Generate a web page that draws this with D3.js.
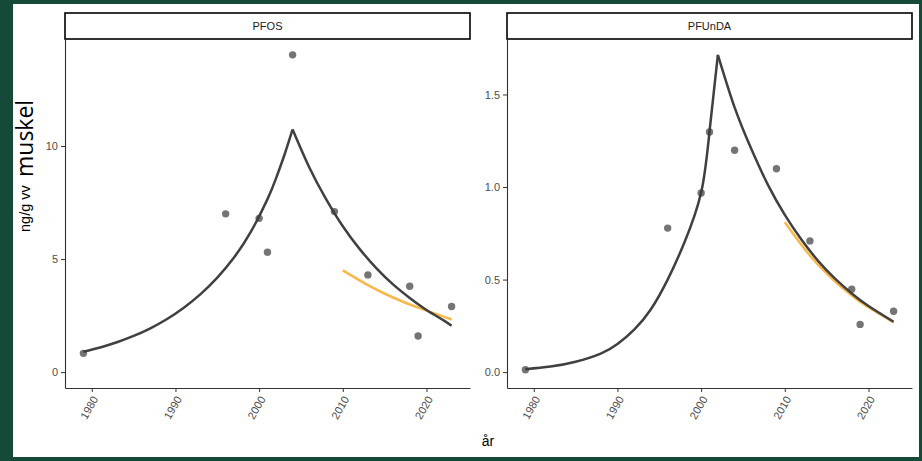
<!DOCTYPE html>
<html><head><meta charset="utf-8">
<script src="https://cdn.jsdelivr.net/npm/d3@7"></script>
<style>body{margin:0;padding:0;overflow:hidden;background:#fff} svg text{-webkit-font-smoothing:antialiased}</style>
</head><body>
<script>
// ---------------- data ----------------
const panels = ["PFOS", "PFUnDA"];
const xTicks = [1980, 1990, 2000, 2010, 2020];

// measured points
const pfosYears   = [1979, 1996, 2000, 2001, 2004, 2009, 2013, 2018, 2019, 2023];
const pfosValues  = [0.83, 7.0, 6.8, 5.3, 14.03, 7.1, 4.3, 3.8, 1.6, 2.9];
const pfundaYears  = [1979, 1996, 2000, 2001, 2004, 2009, 2013, 2018, 2019, 2023];
const pfundaValues = [0.013, 0.778, 0.968, 1.297, 1.199, 1.099, 0.709, 0.448, 0.258, 0.329];

// dark fitted curve (rise and fall parts)
const pfosRiseYears  = [1979, 1981, 1983, 1985, 1987, 1989, 1991, 1993, 1995, 1997, 1999, 2001, 2002, 2003, 2004];
const pfosRiseValues = [0.90, 1.09, 1.32, 1.60, 1.94, 2.35, 2.85, 3.45, 4.18, 5.07, 6.2, 7.65, 8.55, 9.58, 10.73];
const pfosFallYears  = [2004, 2006, 2008, 2010, 2012, 2014, 2016, 2018, 2020, 2022, 2023];
const pfosFallValues = [10.73, 9.05, 7.65, 6.45, 5.45, 4.6, 3.88, 3.28, 2.75, 2.3, 2.05];

const pfundaRiseYears  = [1979, 1982, 1985, 1988, 1990, 1992, 1994, 1996, 1998, 2000, 2001, 2002];
const pfundaRiseValues = [0.016, 0.03, 0.056, 0.1, 0.152, 0.23, 0.34, 0.5, 0.7, 0.97, 1.3, 1.714];
const pfundaFallYears  = [2002, 2004, 2006, 2008, 2010, 2012, 2014, 2016, 2018, 2020, 2023];
const pfundaFallValues = [1.714, 1.43, 1.205, 1.01, 0.85, 0.715, 0.60, 0.505, 0.425, 0.357, 0.272];

// orange recent-trend curve
const pfosRecentYears  = [2010, 2013, 2016, 2019, 2023];
const pfosRecentValues = [4.5, 3.85, 3.3, 2.85, 2.33];
const pfundaRecentYears  = [2010, 2013, 2016, 2019, 2023];
const pfundaRecentValues = [0.81, 0.63, 0.49, 0.38, 0.269];

const pfosYTicks = [0, 5, 10];
const pfundaYTicks = [0, 0.5, 1.0, 1.5];

// ---------------- build ----------------
const zip = (xs, ys) => xs.map((x, i) => ({x, y: ys[i]}));
const panelData = [
  {name: panels[0], pts: zip(pfosYears, pfosValues), rise: zip(pfosRiseYears, pfosRiseValues),
   fall: zip(pfosFallYears, pfosFallValues), recent: zip(pfosRecentYears, pfosRecentValues),
   yTicks: pfosYTicks, fmt: d3.format("d"), left: 65, right: 470},
  {name: panels[1], pts: zip(pfundaYears, pfundaValues), rise: zip(pfundaRiseYears, pfundaRiseValues),
   fall: zip(pfundaFallYears, pfundaFallValues), recent: zip(pfundaRecentYears, pfundaRecentValues),
   yTicks: pfundaYTicks, fmt: d3.format(".1f"), left: 507, right: 912}
];

const W = 922, H = 461;
const pTop = 39, pBottom = 388, stripTop = 13;
const svg = d3.select("body").append("svg").attr("width", W).attr("height", H)
  .style("font-family", "'Liberation Sans', Arial, sans-serif");

svg.append("rect").attr("width", W).attr("height", H).attr("fill", "#144a37");
svg.append("rect").attr("x", 13).attr("y", 4).attr("width", 906).attr("height", 453).attr("fill", "#fff");

// x domain with 5% expansion
const allYears = pfosYears.concat(pfundaYears);
const xMin = d3.min(allYears), xMax = d3.max(allYears);
const xPad = (xMax - xMin) * 0.05;

panelData.forEach(p => {
  const allV = p.pts.map(d => d.y).concat(p.rise.map(d => d.y), p.fall.map(d => d.y), p.recent.map(d => d.y));
  const yMin = Math.min(0, d3.min(allV)), yMax = d3.max(allV);
  const yPad = (yMax - yMin) * 0.05;
  const x = d3.scaleLinear().domain([xMin - xPad, xMax + xPad]).range([p.left, p.right]);
  const y = d3.scaleLinear().domain([yMin - yPad, yMax + yPad]).range([pBottom, pTop]);

  const g = svg.append("g");

  // strip
  g.append("rect").attr("x", p.left).attr("y", stripTop).attr("width", p.right - p.left)
    .attr("height", pTop - stripTop).attr("fill", "#fff").attr("stroke", "#000").attr("stroke-width", 1.6);
  g.append("text").attr("x", (p.left + p.right) / 2).attr("y", (stripTop + pTop) / 2 + 4)
    .attr("text-anchor", "middle").attr("font-size", 11).attr("fill", "#1a1a1a").text(p.name);

  // y axis
  const ya = g.append("g").attr("transform", `translate(${p.left},0)`)
    .call(d3.axisLeft(y).tickValues(p.yTicks).tickFormat(p.fmt).tickSize(4).tickSizeOuter(0).tickPadding(3));
  ya.select(".domain").attr("stroke", "#333").attr("stroke-width", 1.1);
  ya.selectAll(".tick line").attr("stroke", "#333");
  ya.selectAll("text").attr("font-size", 11).attr("fill", "#4d4d4d").attr("opacity", 0.995)
    .style("font-family", "'Liberation Sans', Arial, sans-serif");

  // x axis
  const xa = g.append("g").attr("transform", `translate(0,${pBottom})`)
    .call(d3.axisBottom(x).tickValues(xTicks).tickFormat(d3.format("d")).tickSize(4).tickSizeOuter(0));
  xa.select(".domain").attr("stroke", "#333").attr("stroke-width", 1.1);
  xa.selectAll(".tick line").attr("stroke", "#333");
  xa.selectAll("text").attr("font-size", 11).attr("fill", "#4d4d4d").attr("opacity", 0.995)
    .style("font-family", "'Liberation Sans', Arial, sans-serif")
    .attr("x", 0).attr("y", 0).attr("dy", "0.35em")
    .attr("text-anchor", "end")
    .attr("transform", "translate(3,9) rotate(-60)");

  const line = d3.line().x(d => x(d.x)).y(d => y(d.y)).curve(d3.curveNatural);

  g.append("path").datum(p.recent).attr("d", line).attr("fill", "none")
    .attr("stroke", "#f7b13a").attr("stroke-width", 2.5).attr("opacity", 0.92);
  [p.rise, p.fall].forEach(seg => {
    g.append("path").datum(seg).attr("d", line).attr("fill", "none")
      .attr("stroke", "#404040").attr("stroke-width", 2.5).attr("stroke-linejoin", "miter");
  });

  g.selectAll("circle").data(p.pts).join("circle")
    .attr("cx", d => x(d.x)).attr("cy", d => y(d.y)).attr("r", 3.7)
    .attr("fill", "#3a3a3a").attr("opacity", 0.7);
});

// axis titles
svg.append("text").attr("x", 488).attr("y", 446).attr("text-anchor", "middle")
  .attr("font-size", 14).attr("fill", "#000").text("år");

svg.append("text").attr("transform", "translate(30,232) rotate(-90)")
  .attr("font-size", 14.5).attr("fill", "#000").text("ng/g vv");
svg.append("text").attr("transform", "translate(33,177) rotate(-90)")
  .attr("font-size", 23).attr("fill", "#000").style("font-family", "'Open Sans', sans-serif").text("muskel");
</script>
</body></html>
